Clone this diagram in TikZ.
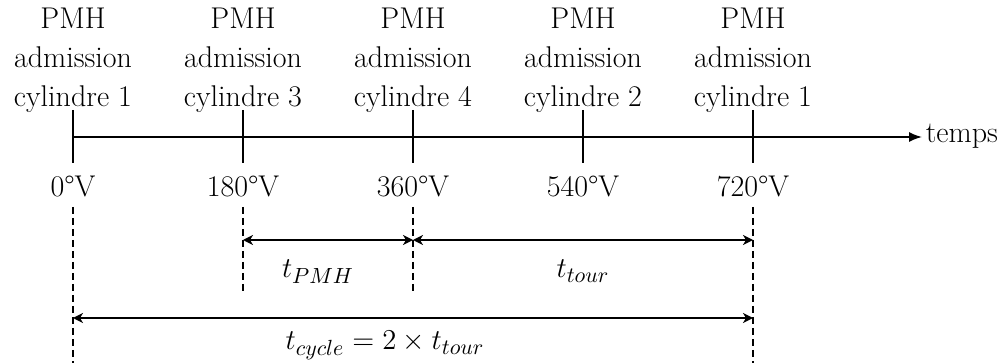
\documentclass[tikz,border=0pt]{standalone}
\usepackage{fontspec}
\usetikzlibrary{arrows.meta}
\begin{document}
\begin{tikzpicture}[x=0.5pt,y=-0.5pt, line width=0.8pt,
 lbl/.style={align=center, anchor=south, inner sep=0pt, font=\fontsize{15}{19.5}\selectfont},
 deg/.style={anchor=base, inner sep=0pt, font=\fontsize{15}{18}\selectfont},
 mlbl/.style={anchor=base, inner sep=0pt, font=\fontsize{15.5}{18}\selectfont},
 dim/.style={{Stealth[length=5pt,width=5pt,inset=1.5pt]}-{Stealth[length=5pt,width=5pt,inset=1.5pt]}},
 guide/.style={dashed, dash pattern=on 3.5pt off 2pt}]
\useasboundingbox (0,0) rectangle (1002,363);
% axis
\coordinate (ax0) at (73,137);
\coordinate (axend) at (922,137);
\draw[-{Latex[length=6.5pt,width=5pt]}] (ax0) -- (axend);
\node[anchor=base west, inner sep=0pt, font=\fontsize{15}{18}\selectfont] (temps) at (925,143) {temps};
% ticks and labels
\foreach \k/\cyl/\ang in {0/1/0,1/3/180,2/4/360,3/2/540,4/1/720}{
  \coordinate (tt\k) at (73+170*\k,110);
  \coordinate (tb\k) at (73+170*\k,163);
  \draw (tt\k) -- (tb\k);
  \node[lbl] (l\k) at (73+170*\k,113) {PMH\\admission\\cylindre \cyl};
  \node[deg] (a\k) at (73+170*\k,197) {\ang°V};
}
% dashed guides
\coordinate (g0t) at (73,207);  \coordinate (g0b) at (73,363);
\coordinate (g1t) at (243,207); \coordinate (g1b) at (243,292);
\coordinate (g2t) at (413,207); \coordinate (g2b) at (413,292);
\coordinate (g4t) at (753,207); \coordinate (g4b) at (753,363);
\draw[guide] (g0t) -- (g0b);
\draw[guide] (g1t) -- (g1b);
\draw[guide] (g2t) -- (g2b);
\draw[guide] (g4t) -- (g4b);
% dimension arrows
\coordinate (p1) at (243,240); \coordinate (p2) at (413,240); \coordinate (p4) at (753,240);
\coordinate (c0) at (73,318); \coordinate (c4) at (753,318);
\draw[dim] (p1) -- (p2);
\draw[dim] (p2) -- (p4);
\draw[dim] (c0) -- (c4);
\node[mlbl] (tpmh) at (318,278) {$t_{PMH}$};
\node[mlbl] (ttour) at (583,278) {$t_{tour}$};
\node[mlbl] (tcyc) at (385,350) {$t_{cycle}=2\times t_{tour}$};
\end{tikzpicture}
\end{document}
